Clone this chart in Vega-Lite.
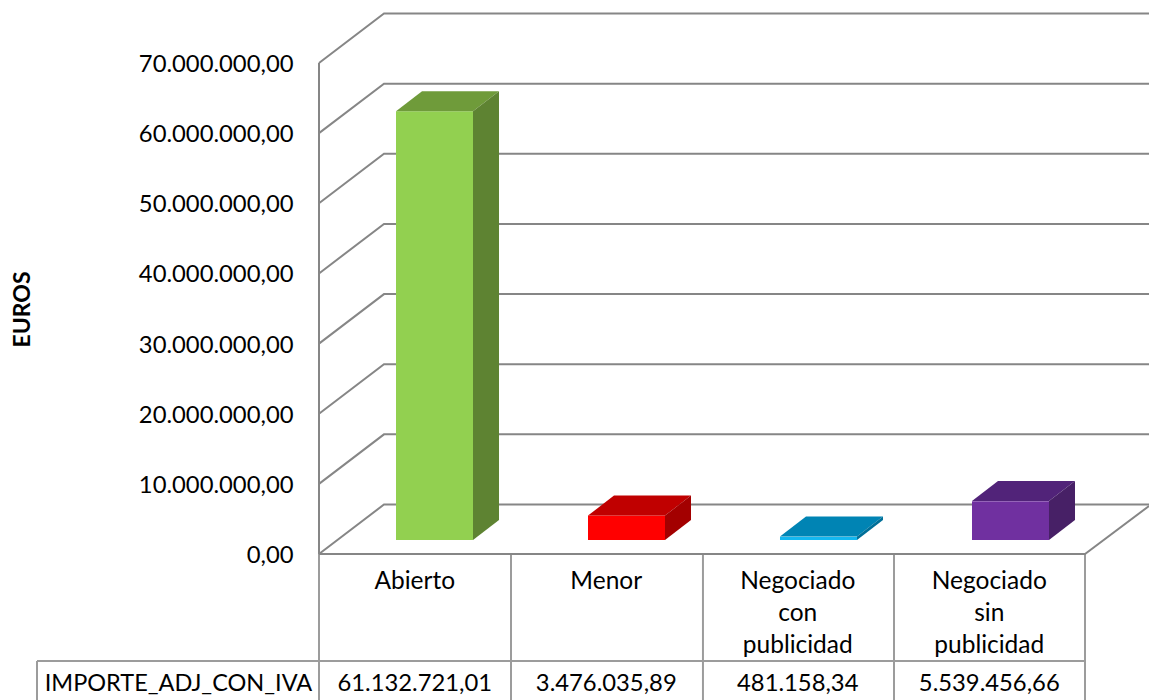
{
"$schema":"https://vega.github.io/schema/vega-lite/v6.json",
"width":1149,"height":700,"padding":0,"autosize":{"type":"none"},"background":"white",
"config":{"view":{"stroke":null},"font":"Lato","locale":{"number":{"decimal":",","thousands":".","grouping":[3],"currency":["","€"]}}},
"datasets":{
"bars":[
{"category":"Abierto","label":"Abierto","value":61132721.01,"left":0.4021,"right":0.8042,"center":0.5},
{"category":"Menor","label":"Menor","value":3476035.89,"left":1.4047,"right":1.8068,"center":1.5},
{"category":"Negociado con publicidad","label":"Negociado\ncon\npublicidad","value":481158.34,"left":2.4073,"right":2.8094,"center":2.5},
{"category":"Negociado sin publicidad","label":"Negociado\nsin\npublicidad","value":5539456.66,"left":3.4099,"right":3.8120,"center":3.5}],
"tops":[
{"shade":"Abierto arriba","level":63132721,"from":0.4021,"to":0.8042},{"shade":"Abierto arriba","level":65984161,"from":0.5379,"to":0.9400},
{"shade":"Menor arriba","level":5476036,"from":1.4047,"to":1.8068},{"shade":"Menor arriba","level":8327476,"from":1.5405,"to":1.9426},
{"shade":"Con arriba","level":2481158,"from":2.4073,"to":2.8094},{"shade":"Con arriba","level":5332598,"from":2.5431,"to":2.9452},
{"shade":"Sin arriba","level":7539457,"from":3.4099,"to":3.8120},{"shade":"Sin arriba","level":10390897,"from":3.5457,"to":3.9478}],
"sides":[
{"shade":"Abierto lado","at":0.8042,"low":2000000,"high":63132721},{"shade":"Abierto lado","at":0.9400,"low":4851440,"high":65984161},
{"shade":"Menor lado","at":1.8068,"low":2000000,"high":5476036},{"shade":"Menor lado","at":1.9426,"low":4851440,"high":8327476},
{"shade":"Con lado","at":2.8094,"low":2000000,"high":2481158},{"shade":"Con lado","at":2.9452,"low":4851440,"high":5332598},
{"shade":"Sin lado","at":3.8120,"low":2000000,"high":7539457},{"shade":"Sin lado","at":3.9478,"low":4851440,"high":10390897}],
"frame":[
{"line":"g0","ord":0,"at":0,"level":0},{"line":"g0","ord":1,"at":0.3394,"level":7057314},{"line":"g0","ord":2,"at":4.3342,"level":7057314},
{"line":"g1","ord":0,"at":0,"level":10000000},{"line":"g1","ord":1,"at":0.3394,"level":17057314},{"line":"g1","ord":2,"at":4.3342,"level":17057314},
{"line":"g2","ord":0,"at":0,"level":20000000},{"line":"g2","ord":1,"at":0.3394,"level":27057314},{"line":"g2","ord":2,"at":4.3342,"level":27057314},
{"line":"g3","ord":0,"at":0,"level":30000000},{"line":"g3","ord":1,"at":0.3394,"level":37057314},{"line":"g3","ord":2,"at":4.3342,"level":37057314},
{"line":"g4","ord":0,"at":0,"level":40000000},{"line":"g4","ord":1,"at":0.3394,"level":47057314},{"line":"g4","ord":2,"at":4.3342,"level":47057314},
{"line":"g5","ord":0,"at":0,"level":50000000},{"line":"g5","ord":1,"at":0.3394,"level":57057314},{"line":"g5","ord":2,"at":4.3342,"level":57057314},
{"line":"g6","ord":0,"at":0,"level":60000000},{"line":"g6","ord":1,"at":0.3394,"level":67057314},{"line":"g6","ord":2,"at":4.3342,"level":67057314},
{"line":"g7","ord":0,"at":0,"level":70000000},{"line":"g7","ord":1,"at":0.3394,"level":77057314},{"line":"g7","ord":2,"at":4.3342,"level":77057314},
{"line":"floor","ord":0,"at":0,"level":0},{"line":"floor","ord":1,"at":4,"level":0},{"line":"floor","ord":2,"at":4.3342,"level":6843456},
{"line":"axis","ord":0,"at":0,"level":0},{"line":"axis","ord":1,"at":0,"level":70000000}],
"table":[
{"line":"v0","ord":0,"at":0,"level":0},{"line":"v0","ord":1,"at":0,"level":-20815512},
{"line":"v1","ord":0,"at":1.0026,"level":0},{"line":"v1","ord":1,"at":1.0026,"level":-20815512},
{"line":"v2","ord":0,"at":2.005,"level":0},{"line":"v2","ord":1,"at":2.005,"level":-20815512},
{"line":"v3","ord":0,"at":3.0026,"level":0},{"line":"v3","ord":1,"at":3.0026,"level":-20815512},
{"line":"v4","ord":0,"at":4,"level":0},{"line":"v4","ord":1,"at":4,"level":-20815512},
{"line":"h","ord":0,"at":-1.4726,"level":-15255204},{"line":"h","ord":1,"at":4,"level":-15255204},
{"line":"l","ord":0,"at":-1.4726,"level":-15255204},{"line":"l","ord":1,"at":-1.4726,"level":-20815512}]
},
"layer":[
{"data":{"name":"table"},"mark":{"type":"line","color":"#9c9c9c","strokeWidth":2,"clip":true},
"encoding":{"x":{"field":"at","type":"quantitative","scale":{"domain":[-1.6658,4.3342],"nice":false,"zero":false},"axis":null},
"y":{"field":"level","type":"quantitative","scale":{"domain":[-20815512,78984888],"nice":false,"zero":false},
"axis":{"orient":"left","offset":-319,"values":[0,10000000,20000000,30000000,40000000,50000000,60000000,70000000],"format":",.2f","domain":false,"ticks":false,"grid":false,"labelFont":"Lato","labelFontSize":23.8,"labelColor":"#000000","labelPadding":26,"labelOffset":1.5,"labelOverlap":false,"title":"EUROS","titleFont":"Lato","titleFontSize":23,"titleFontWeight":"bold","titleColor":"#000000","titleX":-297,"titleY":309,"titleAngle":-90,"titleAlign":"center","titleBaseline":"middle"}},
"detail":{"field":"line"},"order":{"field":"ord"}}},
{"data":{"name":"frame"},"mark":{"type":"line","color":"#868686","strokeWidth":2,"clip":true},
"encoding":{"x":{"field":"at","type":"quantitative"},"y":{"field":"level","type":"quantitative"},
"detail":{"field":"line"},"order":{"field":"ord"}}},
{"data":{"name":"bars"},"mark":{"type":"rect","yOffset":-14,"y2Offset":-14},
"encoding":{"x":{"field":"left","type":"quantitative"},"x2":{"field":"right"},"y":{"field":"value","type":"quantitative"},"y2":{"datum":0},
"color":{"field":"category","type":"nominal","legend":null,"scale":{"domain":["Abierto","Menor","Negociado con publicidad","Negociado sin publicidad"],"range":["#92D050","#FF0000","#13B7F0","#7030A0"]}}}},
{"data":{"name":"tops"},"mark":{"type":"area","orient":"horizontal","opacity":1},
"encoding":{"y":{"field":"level","type":"quantitative","stack":null},"x":{"field":"from","type":"quantitative","stack":null},"x2":{"field":"to"},
"fill":{"field":"shade","type":"nominal","legend":null,"scale":{"domain":["Abierto arriba","Menor arriba","Con arriba","Sin arriba","Abierto lado","Menor lado","Con lado","Sin lado"],"range":["#6F9B3A","#C00000","#0084B4","#512379","#5E8332","#A30000","#006F98","#472066"]}}}},
{"data":{"name":"sides"},"mark":{"type":"area","orient":"vertical","opacity":1},
"encoding":{"x":{"field":"at","type":"quantitative","stack":null},"y":{"field":"low","type":"quantitative","stack":null},"y2":{"field":"high"},
"fill":{"field":"shade","type":"nominal","legend":null,"scale":{"domain":["Abierto arriba","Menor arriba","Con arriba","Sin arriba","Abierto lado","Menor lado","Con lado","Sin lado"],"range":["#6F9B3A","#C00000","#0084B4","#512379","#5E8332","#A30000","#006F98","#472066"]}}}},
{"data":{"name":"bars"},"mark":{"type":"text","font":"Lato","fontSize":24.5,"color":"#000000","align":"center","baseline":"alphabetic","lineBreak":"\n","lineHeight":32},
"encoding":{"x":{"field":"center","type":"quantitative"},"y":{"datum":-4990020},"text":{"field":"label"}}},
{"data":{"name":"bars"},"mark":{"type":"text","font":"Lato","fontSize":23.8,"color":"#000000","align":"center","baseline":"alphabetic"},
"encoding":{"x":{"field":"center","type":"quantitative"},"y":{"datum":-19532364},"text":{"field":"value","type":"quantitative","format":",.2f"}}},
{"data":{"values":[{"name":"IMPORTE_ADJ_CON_IVA","center":-0.7337}]},"mark":{"type":"text","font":"Lato","fontSize":23.5,"color":"#000000","align":"center","baseline":"alphabetic"},
"encoding":{"x":{"field":"center","type":"quantitative"},"y":{"datum":-19532364},"text":{"field":"name"}}}
]
}
